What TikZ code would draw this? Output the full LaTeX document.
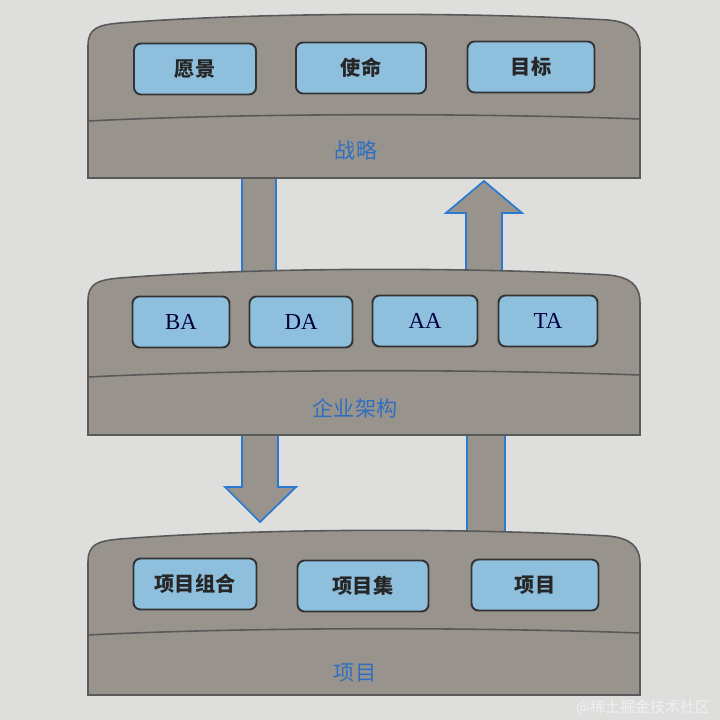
\documentclass[tikz,border=0pt]{standalone}
\usepackage{fontspec}
\setmainfont{Liberation Serif}
\newfontfamily\cjk{Noto Sans CJK SC}
\usetikzlibrary{calc}
\definecolor{paper}{HTML}{DEDEDC}
\definecolor{bandgrey}{HTML}{99938D}
\definecolor{boxblue}{HTML}{8EC0DE}
\definecolor{lblblue}{HTML}{2F6FBF}
\definecolor{arrblue}{HTML}{2A7AD0}
\newcommand{\band}[3]{%
  \draw[edge,fill=bandgrey] (88,#3) -- (88,#1+34) .. controls (88,#1+16) and (98,#1+13) .. (120,#1+11)
    .. controls (260,#1) and (470,#1) .. (608,#1+8) .. controls (630,#1+10) and (640,#1+18) .. (640,#1+36) -- (640,#3) -- cycle;
  \draw[edge] (88,#2+5) .. controls (250,#2-3) and (470,#2-3) .. (640,#2+3);}

\begin{document}
\begin{tikzpicture}[x=0.2mm,y=-0.2mm,
  box/.style={draw=black!80,line width=1.1pt,fill=boxblue,rounded corners=4pt,minimum height=10.2mm,
    font=\cjk\bfseries\fontsize{11.5}{13}\selectfont,text=black!85},
  latin/.style={font=\fontsize{13}{15}\selectfont,text=blue!25!black},
  lbl/.style={text=lblblue,font=\cjk\fontsize{12}{14}\selectfont},
  edge/.style={draw=black!65,line width=0.9pt},
  blockarrow/.style={fill=bandgrey,draw=arrblue,line width=1pt}]
\fill[paper] (0,0) rectangle (720,720);
\useasboundingbox (0,0) rectangle (720,720);
\coordinate (la) at (259,170); \coordinate (lb) at (259,278);
\coordinate (ra) at (484,181); \coordinate (rb) at (484,278);
\coordinate (lc) at (260,425); \coordinate (ld) at (260,522);
\coordinate (rc) at (486,425); \coordinate (rd) at (486,540);
\fill[bandgrey] ($(la)+(-17,0)$) rectangle ($(lb)+(17,0)$);
\draw[arrblue,line width=1pt] ($(la)+(-17,0)$) -- ($(lb)+(-17,0)$) ($(la)+(17,0)$) -- ($(lb)+(17,0)$);
\filldraw[blockarrow] ($(rb)+(-18,0)$) -- ($(ra)+(-18,32)$) -- ($(ra)+(-38,32)$) -- (ra)
  -- ($(ra)+(38,32)$) -- ($(ra)+(18,32)$) -- ($(rb)+(18,0)$);
\filldraw[blockarrow] ($(lc)+(-18,0)$) -- ($(ld)+(-18,-35)$) -- ($(ld)+(-35,-35)$) -- (ld)
  -- ($(ld)+(36,-35)$) -- ($(ld)+(18,-35)$) -- ($(lc)+(18,0)$);
\fill[bandgrey] ($(rc)+(-19,0)$) rectangle ($(rd)+(19,0)$);
\draw[arrblue,line width=1pt] ($(rc)+(-19,0)$) -- ($(rd)+(-19,0)$) ($(rc)+(19,0)$) -- ($(rd)+(19,0)$);
\band{12}{116}{178}
\band{267}{372}{435}
\band{528}{630}{695}
\node[box,minimum width=24.4mm] (vision) at (195,69) {愿景};
\node[box,minimum width=26mm] (mission) at (361,68) {使命};
\node[box,minimum width=25.4mm] (goal) at (531,67) {目标};
\node[lbl] (strategy) at (356,150) {战略};
\node[box,latin,minimum width=19.4mm] (ba) at (181,322) {BA};
\node[box,latin,minimum width=20.6mm] (da) at (301,322) {DA};
\node[box,latin,minimum width=21mm] (aa) at (425,321) {AA};
\node[box,latin,minimum width=19.8mm] (ta) at (548,321) {TA};
\node[lbl] (ea) at (355,408) {企业架构};
\node[box,minimum width=24.6mm] (portfolio) at (195,584) {项目组合};
\node[box,minimum width=26.2mm] (program) at (363,586) {项目集};
\node[box,minimum width=25.4mm] (project) at (535,585) {项目};
\node[lbl] (projects) at (355,673) {项目};
\node[anchor=east,text=white!94!black,font=\cjk\fontsize{8.5}{10}\selectfont] (mark) at (716,707) {@稀土掘金技术社区};
\end{tikzpicture}
\end{document}
